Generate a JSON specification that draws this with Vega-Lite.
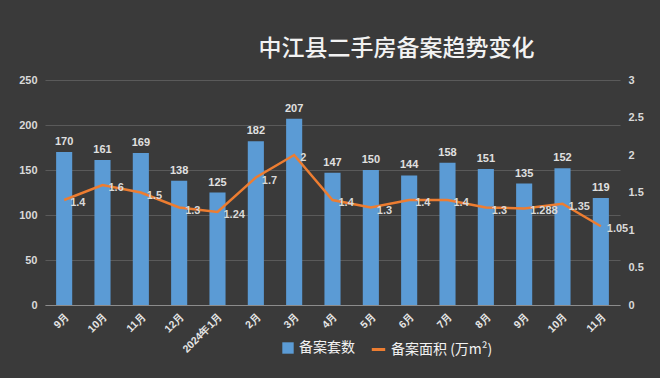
{
  "$schema": "https://vega.github.io/schema/vega-lite/v6.json",
  "width": 575,
  "height": 225,
  "autosize": {"type": "none"},
  "padding": {"left": 45, "top": 80, "right": 40, "bottom": 73},
  "background": "#3a3a3a",
  "config": {
    "view": {"stroke": null},
    "font": "Liberation Sans"
  },
  "title": {
    "text": "中江县二手房备案趋势变化",
    "font": "Noto Sans CJK SC",
    "fontSize": 23,
    "fontWeight": 500,
    "color": "#f2f2f2",
    "anchor": "middle",
    "dx": 64,
    "offset": 13
  },
  "data": {
    "values": [
      {"month": "9月", "count": 170, "area": 1.4, "alabel": "1.4"},
      {"month": "10月", "count": 161, "area": 1.6, "alabel": "1.6"},
      {"month": "11月", "count": 169, "area": 1.5, "alabel": "1.5"},
      {"month": "12月", "count": 138, "area": 1.3, "alabel": "1.3"},
      {"month": "2024年1月", "count": 125, "area": 1.24, "alabel": "1.24"},
      {"month": "2月", "count": 182, "area": 1.7, "alabel": "1.7"},
      {"month": "3月", "count": 207, "area": 2.0, "alabel": "2"},
      {"month": "4月", "count": 147, "area": 1.4, "alabel": "1.4"},
      {"month": "5月", "count": 150, "area": 1.3, "alabel": "1.3"},
      {"month": "6月", "count": 144, "area": 1.4, "alabel": "1.4"},
      {"month": "7月", "count": 158, "area": 1.4, "alabel": "1.4"},
      {"month": "8月", "count": 151, "area": 1.3, "alabel": "1.3"},
      {"month": "9月 ", "count": 135, "area": 1.288, "alabel": "1.288"},
      {"month": "10月 ", "count": 152, "area": 1.35, "alabel": "1.35"},
      {"month": "11月 ", "count": 119, "area": 1.05, "alabel": "1.05"}
    ]
  },
  "encoding": {
    "x": {
      "field": "month",
      "type": "ordinal",
      "sort": null,
      "scale": {"paddingInner": 0.58, "paddingOuter": 0.29},
      "axis": {
        "title": null,
        "labelAngle": -45,
        "labelColor": "#e6e6e6",
        "labelFontSize": 10.5,
        "labelFontWeight": "bold",
        "domainColor": "#8c8c8c",
        "ticks": false,
        "labelPadding": 6,
        "grid": false
      }
    }
  },
  "layer": [
    {
      "encoding": {
        "y": {
          "field": "count",
          "type": "quantitative",
          "scale": {"domain": [0, 250]},
          "axis": {
            "title": null,
            "values": [0, 50, 100, 150, 200, 250],
            "labelColor": "#d9d9d9",
            "labelFontSize": 11,
            "labelFontWeight": "bold",
            "domain": false,
            "ticks": false,
            "labelPadding": 8,
            "gridColor": "#5a5a5a",
            "gridWidth": 1
          }
        }
      },
      "layer": [
        {
          "mark": {"type": "bar", "color": "#5b9bd5"},
          "encoding": {
            "fill": {
              "datum": "备案套数",
              "scale": {"range": ["#5b9bd5"]},
              "legend": {
                "title": null,
                "orient": "none",
                "legendX": 236,
                "legendY": 261,
                "symbolType": "square",
                "symbolSize": 130,
                "symbolStrokeWidth": 0,
                "labelColor": "#f2f2f2",
                "labelFont": "Noto Sans CJK SC",
                "labelFontSize": 14,
                "labelOffset": 4
              }
            }
          }
        },
        {
          "mark": {"type": "text", "baseline": "bottom", "dy": -5, "fontSize": 11, "fontWeight": "bold", "color": "#e0e0e0"},
          "encoding": {
            "text": {"field": "count"}
          }
        }
      ]
    },
    {
      "encoding": {
        "y": {
          "field": "area",
          "type": "quantitative",
          "scale": {"domain": [0, 3]},
          "axis": {
            "title": null,
            "orient": "right",
            "values": [0, 0.5, 1, 1.5, 2, 2.5, 3],
            "labelExpr": "datum.value + ''",
            "labelOverlap": false,
            "labelColor": "#d9d9d9",
            "labelFontSize": 11,
            "labelFontWeight": "bold",
            "domain": false,
            "ticks": false,
            "grid": false,
            "labelPadding": 8
          }
        }
      },
      "layer": [
        {
          "mark": {"type": "line", "color": "#ed7d31", "strokeWidth": 2.5},
          "encoding": {
            "stroke": {
              "datum": "area",
              "scale": {"range": ["#ed7d31"]},
              "legend": {
                "title": null,
                "orient": "none",
                "legendX": 325,
                "legendY": 261,
                "symbolType": "stroke",
                "symbolSize": 180,
                "symbolStrokeWidth": 3,
                "labelColor": "#f2f2f2",
                "labelFont": "Noto Sans CJK SC",
                "labelFontSize": 14,
                "labelOffset": 4,
                "labelLimit": 0,
                "labelExpr": "'备案面积 (万m²) '"
              }
            }
          }
        },
        {
          "mark": {"type": "text", "align": "left", "baseline": "middle", "dx": 6, "dy": 3, "fontSize": 11, "fontWeight": "bold", "color": "#d9d9d9"},
          "encoding": {
            "text": {"field": "alabel"}
          }
        }
      ]
    }
  ],
  "resolve": {"scale": {"y": "independent"}}
}
